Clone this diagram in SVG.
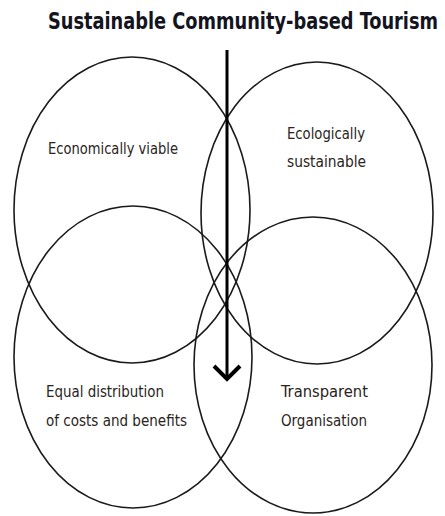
<svg xmlns="http://www.w3.org/2000/svg" width="445" height="516" viewBox="0 0 445 516">
<style>
.c{fill:none;stroke:#1a1a1a;stroke-width:1.6}
.t{font-family:"DejaVu Sans Condensed","DejaVu Sans",sans-serif;font-stretch:condensed;fill:#2a2320;font-size:15px}
.h{font-family:"DejaVu Sans Condensed","DejaVu Sans",sans-serif;font-stretch:condensed;font-weight:bold;fill:#14141e;font-size:18px}
</style>
<rect width="445" height="516" fill="#fff"/>
<text class="h" x="48" y="0" transform="translate(0,29) scale(1,1.3)" textLength="390" lengthAdjust="spacingAndGlyphs">Sustainable Community-based Tourism</text>
<g id="economically-viable">
<ellipse class="c" cx="132" cy="210" rx="118" ry="153"/>
<text class="t" x="48" y="154" textLength="130" lengthAdjust="spacingAndGlyphs">Economically viable</text>
</g>
<g id="ecologically-sustainable">
<ellipse class="c" cx="317" cy="213" rx="116" ry="151"/>
<text class="t" x="287" y="139" textLength="78" lengthAdjust="spacingAndGlyphs">Ecologically</text>
<text class="t" x="287" y="167" textLength="79" lengthAdjust="spacingAndGlyphs">sustainable</text>
</g>
<g id="equal-distribution">
<ellipse class="c" cx="133" cy="357" rx="119" ry="151"/>
<text class="t" x="46" y="397" textLength="118" lengthAdjust="spacingAndGlyphs">Equal distribution</text>
<text class="t" x="46" y="426" textLength="141" lengthAdjust="spacingAndGlyphs">of costs and benefits</text>
</g>
<g id="transparent-organisation">
<ellipse class="c" cx="313" cy="365" rx="119" ry="148"/>
<text class="t" x="281" y="397" textLength="87" lengthAdjust="spacingAndGlyphs">Transparent</text>
<text class="t" x="281" y="426" textLength="86" lengthAdjust="spacingAndGlyphs">Organisation</text>
</g>
<g id="connectors">
<line x1="227" y1="50" x2="227" y2="380" stroke="#000" stroke-width="3"/>
<polyline points="214,366 227,379 240,366" fill="none" stroke="#000" stroke-width="4"/>
</g>
</svg>
